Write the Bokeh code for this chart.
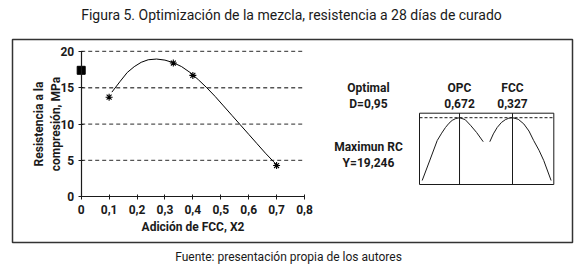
from bokeh.plotting import figure
from bokeh.models import Range1d, LinearAxis, FixedTicker
from bokeh.core.properties import value
from bokeh.embed import file_html
from bokeh.resources import INLINE

# ---------------- data ----------------
x_ticks = [0, 0.1, 0.2, 0.3, 0.4, 0.5, 0.6, 0.7, 0.8]
x_tick_labels = ["0", "0,1", "0,2", "0,3", "0,4", "0,5", "0,6", "0,7", "0,8"]
y_ticks = [0, 5, 10, 15, 20]
grid_levels = [5, 10, 15, 20]

obs_x = [0.10, 0.33, 0.40, 0.70]
obs_y = [13.7, 18.4, 16.7, 4.3]

opc_x = [0.0]
opc_y = [17.4]

fit_x = [0.11, 0.14, 0.165, 0.19, 0.215, 0.24, 0.27, 0.30, 0.33, 0.36, 0.39,
         0.42, 0.45, 0.48, 0.51, 0.54, 0.57, 0.60, 0.63, 0.66, 0.69, 0.70]
fit_y = [14.4, 15.9, 17.1, 17.9, 18.5, 18.85, 18.95, 18.8, 18.45, 17.9, 17.1,
         16.1, 15.0, 13.8, 12.5, 11.2, 9.9, 8.6, 7.3, 6.0, 4.8, 4.4]

# desirability panel (schematic, panel coords: OPC 0..1, FCC 1..2, D 0..1)
opc_curve_x = [0.04, 0.15, 0.264, 0.33, 0.387, 0.44, 0.487, 0.54, 0.596, 0.68, 0.76, 0.85, 0.949]
opc_curve_y = [0.056, 0.33, 0.617, 0.72, 0.80, 0.86, 0.90, 0.925, 0.937, 0.91, 0.83, 0.73, 0.60]
fcc_curve_x = [1.047, 1.10, 1.157, 1.22, 1.28, 1.33, 1.385, 1.47, 1.553, 1.63, 1.70, 1.78, 1.85, 1.96]
fcc_curve_y = [0.60, 0.71, 0.80, 0.87, 0.91, 0.93, 0.937, 0.915, 0.85, 0.75, 0.617, 0.48, 0.337, 0.056]
opt_setting_x = [0.596, 1.385]
d_level = 0.937

TITLE = "Figura 5. Optimización de la mezcla, resistencia a 28 días de curado"
SOURCE = "Fuente: presentación propia de los autores"

FONT = "Roboto"
INK = "#1a1a1a"

# ---------------- layout geometry (pixels) ----------------
W, H = 580, 277
BL, BR, BT, BB = 12, 572, 39, 242       # outer box
X0PX, X08PX = 80.7, 304.0               # x=0 and x=0.8
Y0PX, Y20PX = 196.3, 50.9               # y=0 and y=20
xs = (X08PX - X0PX) / 0.8
ys = (Y0PX - Y20PX) / 20.0


def dx(px):
    return (px - X0PX) / xs


def dy(py):
    return (Y0PX - py) / ys


p = figure(width=W, height=H, output_backend="svg", toolbar_location=None,
           title=None,
           x_range=Range1d(dx(0), dx(W)), y_range=Range1d(dy(H), dy(0)),
           x_axis_type=None, y_axis_type=None,
           min_border=0, min_border_left=0, min_border_right=0,
           min_border_top=0, min_border_bottom=0)
p.xgrid.visible = False
p.ygrid.visible = False
p.outline_line_color = None
p.background_fill_color = "white"
p.border_fill_color = "white"

# panel ranges
PL, PR, PT, PB = 419.0, 553.3, 112.7, 184.0
pxs = (PR - PL) / 2.0
pys = (PB - PT) / 1.0
p.extra_x_ranges = {"pan": Range1d(-PL / pxs, 2 + (W - PR) / pxs)}
p.extra_y_ranges = {"pan": Range1d(-(H - PB) / pys, 1 + PT / pys)}

# outer box
p.quad(left=[dx(BL)], right=[dx(BR)], bottom=[dy(BB)], top=[dy(BT)],
       fill_color=None, line_color="#333333", line_width=1.5)

# title and source
p.text(x=[dx(291.0)], y=[dy(14.5)], text=[TITLE], text_font=value(FONT),
       text_font_size="14px", text_color=INK, text_align="center", text_baseline="middle")
p.text(x=[dx(288.0)], y=[dy(256.0)], text=[SOURCE], text_font=value(FONT),
       text_font_size="12px", text_color=INK, text_align="center", text_baseline="middle")

# axes
common = dict(axis_line_color=INK, axis_line_width=1.2,
              major_tick_line_color=INK, major_tick_in=2, major_tick_out=3,
              minor_tick_line_color=None,
              major_label_text_font=FONT, major_label_text_font_size="12px",
              major_label_text_color=INK, major_label_text_font_style="bold",
              axis_label_text_font=FONT, axis_label_text_font_size="12px",
              axis_label_text_font_style="bold", axis_label_text_color=INK)
yax = LinearAxis(fixed_location=0, bounds=(0, 20), ticker=FixedTicker(ticks=y_ticks),
                 axis_label="Resistencia a la\ncompresión, MPa",
                 major_label_standoff=4, axis_label_standoff=-5, **common)
xax = LinearAxis(fixed_location=0, bounds=(0, 0.8), ticker=FixedTicker(ticks=x_ticks),
                 axis_label="Adición de FCC, X2",
                 major_label_overrides=dict(zip(x_ticks, x_tick_labels)),
                 major_label_standoff=5, axis_label_standoff=3, **common)
p.add_layout(yax, "left")
p.add_layout(xax, "below")

# dashed grid lines
p.segment(x0=[x_ticks[0]] * len(grid_levels), x1=[x_ticks[-1]] * len(grid_levels),
          y0=grid_levels, y1=grid_levels, line_color="#555555", line_width=1.3,
          line_dash="4 3")

# fitted curve and points
p.line(fit_x, fit_y, line_color="black", line_width=1)
p.scatter(obs_x, obs_y, marker="asterisk", size=7, line_color="black", line_width=1.1)
p.scatter(opc_x, opc_y, marker="square", size=8, fill_color="black", line_color="black")

# desirability panel
p.quad(left=[0], right=[2], bottom=[0], top=[1], fill_color=None, line_color=INK,
       line_width=1, x_range_name="pan", y_range_name="pan")
p.segment(x0=[0], x1=[2], y0=[d_level], y1=[d_level], line_color=INK, line_width=1,
          line_dash="3 2", x_range_name="pan", y_range_name="pan")
p.segment(x0=opt_setting_x, x1=opt_setting_x, y0=[0, 0], y1=[1, 1], line_color=INK,
          line_width=1, x_range_name="pan", y_range_name="pan")
p.line(opc_curve_x, opc_curve_y, line_color=INK, line_width=1,
       x_range_name="pan", y_range_name="pan")
p.line(fcc_curve_x, fcc_curve_y, line_color=INK, line_width=1,
       x_range_name="pan", y_range_name="pan")

lab_x = -0.76
p.text(x=[lab_x, lab_x, opt_setting_x[0], opt_setting_x[0], opt_setting_x[1], opt_setting_x[1],
          lab_x, lab_x],
       y=[1.36, 1.136, 1.36, 1.136, 1.36, 1.136, 0.519, 0.295],
       text=["Optimal", "D=0,95", "OPC", "0,672", "FCC", "0,327", "Maximun RC", "Y=19,246"],
       text_font=value(FONT), text_font_size="12px", text_font_style="bold",
       text_color=INK, text_align="center", text_baseline="middle",
       x_range_name="pan", y_range_name="pan")

open("out.html", "w").write(file_html(p, INLINE))
